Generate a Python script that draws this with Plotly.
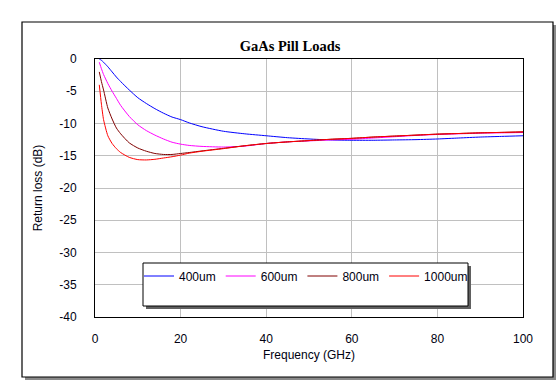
import plotly.graph_objects as go

freq = [1, 1.5, 2, 3, 4, 5, 6, 8, 10, 12, 14, 16, 18, 20, 22, 25, 30, 35, 40, 45,
        50, 55, 60, 65, 70, 75, 80, 85, 90, 95, 100]

rl_400 = [0.0, -0.2, -0.5, -1.2, -2.0, -2.8, -3.5, -4.8, -6.0, -6.9, -7.7, -8.4, -9.0,
          -9.4, -9.9, -10.5, -11.2, -11.6, -11.9, -12.2, -12.4, -12.55, -12.6, -12.6,
          -12.55, -12.5, -12.4, -12.25, -12.1, -12.0, -11.9]
rl_600 = [-0.5, -1.5, -2.4, -3.8, -5.0, -6.1, -7.2, -8.9, -10.2, -11.1, -11.8, -12.4,
          -12.9, -13.2, -13.4, -13.55, -13.65, -13.5, -13.1, -12.85, -12.7, -12.55,
          -12.45, -12.25, -12.05, -11.85, -11.7, -11.6, -11.5, -11.45, -11.4]
rl_800 = [-2.0, -3.5, -4.8, -7.6, -9.3, -10.7, -11.6, -13.0, -13.8, -14.3, -14.65,
          -14.8, -14.8, -14.65, -14.5, -14.25, -13.85, -13.45, -13.1, -12.85, -12.65,
          -12.45, -12.3, -12.1, -11.95, -11.8, -11.65, -11.55, -11.45, -11.38, -11.3]
rl_1000 = [-4.0, -7.0, -9.4, -11.9, -13.1, -13.9, -14.5, -15.25, -15.6, -15.65, -15.55,
           -15.35, -15.15, -14.9, -14.6, -14.3, -13.9, -13.45, -13.1, -12.85, -12.65,
           -12.45, -12.3, -12.1, -11.95, -11.8, -11.65, -11.55, -11.45, -11.38, -11.3]

series_names = ["400um", "600um", "800um", "1000um"]
series_vals = [rl_400, rl_600, rl_800, rl_1000]
series_colors = ["#0000ff", "#ff00ff", "#800000", "#ff0000"]

x_ticks = [0, 20, 40, 60, 80, 100]
y_ticks = [0, -5, -10, -15, -20, -25, -30, -35, -40]

W, H = 556, 380
L, R, T, B = 95, 523, 59, 317  # plot area in pixels


def px(x):
    return (x - L) / (R - L)


def py(y):
    return (B - y) / (B - T)


fig = go.Figure()
for name, vals, col in zip(series_names, series_vals, series_colors):
    fig.add_trace(go.Scatter(x=freq, y=vals, name=name, mode="lines",
                             line=dict(color=col, width=1, shape="spline", smoothing=0.6)))

shapes = [
    # outer frame shadow + frame
    dict(type="rect", xref="paper", yref="paper", layer="below",
         x0=px(25), x1=px(556), y0=py(25), y1=py(380),
         fillcolor="#8a8a8a", line=dict(width=0)),
    dict(type="rect", xref="paper", yref="paper", layer="below",
         x0=px(22), x1=px(553), y0=py(22), y1=py(377),
         fillcolor="white", line=dict(color="black", width=1.2)),
    # legend shadow + box
    dict(type="rect", xref="paper", yref="paper", layer="above",
         x0=px(146), x1=px(471), y0=py(266), y1=py(309),
         fillcolor="#606060", line=dict(width=0)),
    dict(type="rect", xref="paper", yref="paper", layer="above",
         x0=px(143), x1=px(468), y0=py(263), y1=py(306),
         fillcolor="white", line=dict(color="black", width=1)),
]

fig.update_layout(
    width=W, height=H,
    margin=dict(l=L, r=W - R, t=T, b=H - B, pad=0),
    paper_bgcolor="white",
    plot_bgcolor="rgba(0,0,0,0)",
    shapes=shapes,
    title=dict(text="<b>GaAs Pill Loads</b>", xref="container", x=290 / W,
               xanchor="center", yref="container", y=1 - 46 / H, yanchor="middle",
               font=dict(family="Liberation Serif", size=14.5, color="black")),
    font=dict(family="Liberation Sans", size=12, color="#000010"),
    showlegend=True,
    legend=dict(orientation="h", x=px(139), y=py(261.5), xanchor="left", yanchor="top",
                bgcolor="rgba(0,0,0,0)", borderwidth=0, itemwidth=30,
                font=dict(family="Liberation Sans", size=12, color="#000010"),
                traceorder="normal", itemclick=False, itemdoubleclick=False),
    xaxis=dict(range=[0, 100], tickvals=x_ticks, ticktext=[str(v) for v in x_ticks],
               showgrid=True, gridcolor="#c0c0c0", gridwidth=1,
               showline=True, linecolor="black", linewidth=1, mirror=True,
               zeroline=False, ticks="", ticklabelstandoff=11,
               title=dict(text="Frequency (GHz)", standoff=5,
                          font=dict(family="Liberation Sans", size=12))),
    yaxis=dict(range=[-40, 0], tickvals=y_ticks, ticktext=[str(v) for v in y_ticks],
               showgrid=True, gridcolor="#c0c0c0", gridwidth=1,
               showline=True, linecolor="black", linewidth=1, mirror=True,
               zeroline=False, ticks="", ticklabelstandoff=15,
               title=dict(text="Return loss (dB)", standoff=14,
                          font=dict(family="Liberation Sans", size=12))),
)

fig.write_html("out.html", config={"displayModeBar": False},
               post_script="document.body.style.margin='0px';")
